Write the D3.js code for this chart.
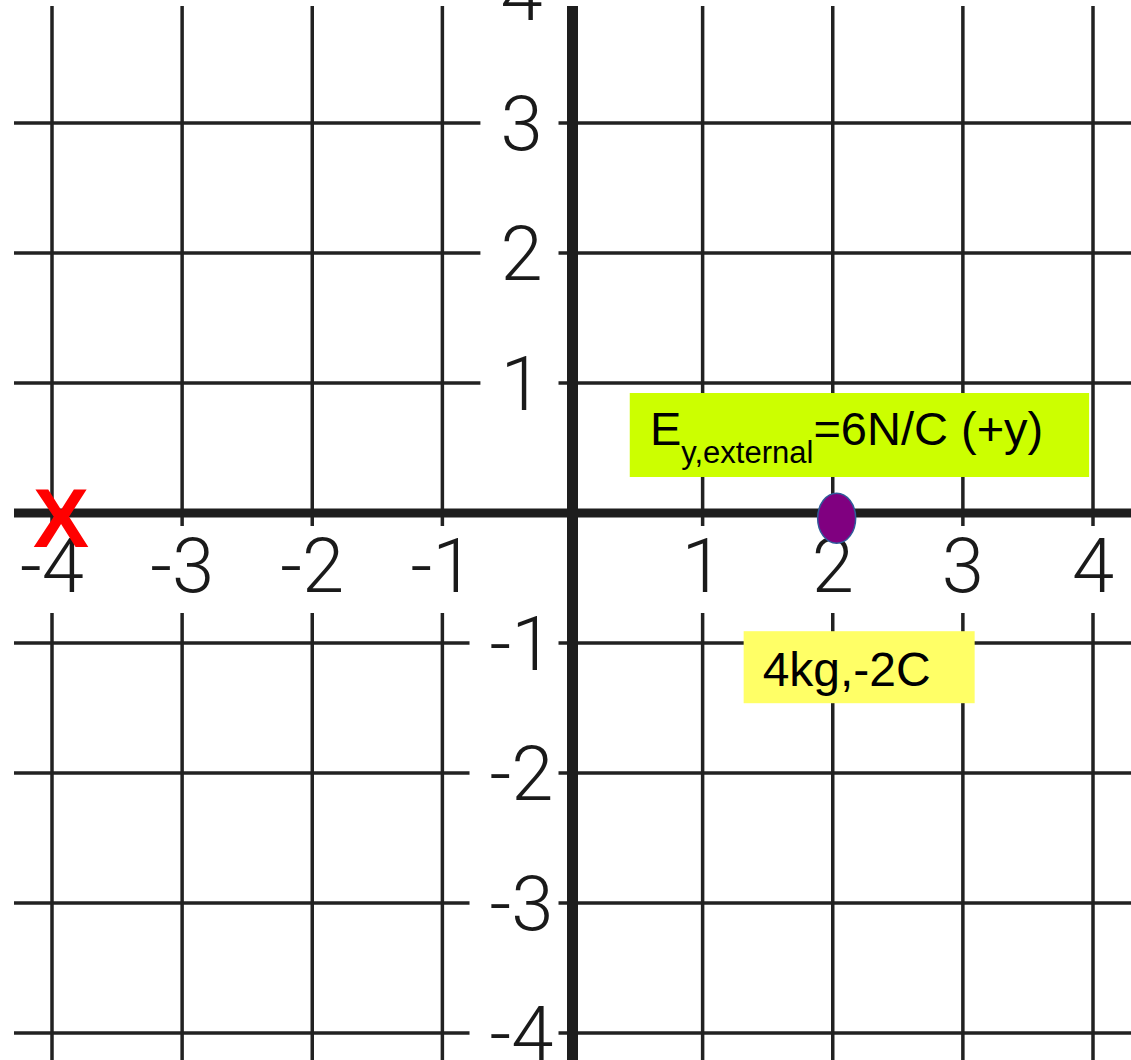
<!DOCTYPE html>
<html lang="en">
<head>
  <meta charset="UTF-8">
  <title>Charge on a grid</title>
  <script src="https://d3js.org/d3.v7.min.js"></script>
  <style>
    body { margin: 0; padding: 0; background: #fff; }
    svg { display: block; }
    .tick-label { font-family: Roboto, "Liberation Sans", sans-serif; font-weight: 300; fill: #1a1a1a; }
    .note { font-family: "Liberation Sans", Arial, sans-serif; fill: #000; }
  </style>
</head>
<body>
  <div id="chart"></div>

  <script>
    // grid values
    const xTicks = [-4, -3, -2, -1, 1, 2, 3, 4];
    const yTicks = [4, 3, 2, 1, -1, -2, -3, -4];
    const xTickLabels = ['-4', '-3', '-2', '-1', '1', '2', '3', '4'];
    const yTickLabels = ['4', '3', '2', '1', '-1', '-2', '-3', '-4'];

    // the charge and the marked point
    const charge = [{ x: 2.03, y: -0.04, label: '4kg,-2C' }];
    const marker = [{ x: -3.93, y: -0.03, label: 'X' }];
    const field = { name: 'E', sub: 'y,external', value: '=6N/C (+y)' };

    const width = 1131;
    const height = 1060;

    const x = d3.scaleLinear().domain([-4, 4]).range([52, 1093]);
    const y = d3.scaleLinear().domain([-4, 4]).range([1033, -7]);

    const svg = d3.select('#chart')
      .append('svg')
      .attr('width', width)
      .attr('height', height);

    const leftEdge = 14, topEdge = 6;

    // grid lines
    svg.append('g')
      .selectAll('line')
      .data(xTicks)
      .join('line')
      .attr('x1', d => x(d)).attr('x2', d => x(d))
      .attr('y1', topEdge).attr('y2', height)
      .attr('stroke', '#222').attr('stroke-width', 3.5);

    svg.append('g')
      .selectAll('line')
      .data(yTicks)
      .join('line')
      .attr('x1', leftEdge).attr('x2', width)
      .attr('y1', d => y(d)).attr('y2', d => y(d))
      .attr('stroke', '#222').attr('stroke-width', 3.5);

    // x labels with white patches behind them
    const xl = svg.append('g');
    const xText = xl.selectAll('text')
      .data(xTicks)
      .join('text')
      .attr('class', 'tick-label')
      .attr('x', d => x(d))
      .attr('y', y(0) + 79)
      .attr('text-anchor', 'middle')
      .style('font-size', '76px')
      .text((d, i) => xTickLabels[i]);
    xText.each(function() {
      const b = this.getBBox();
      xl.insert('rect', 'text')
        .attr('x', b.x - 14).attr('width', b.width + 28)
        .attr('y', y(0) + 13).attr('height', 87)
        .attr('fill', '#fff');
    });

    // y labels
    const yl = svg.append('g');
    const yText = yl.selectAll('text')
      .data(yTicks)
      .join('text')
      .attr('class', 'tick-label')
      .attr('x', x(0) - 51)
      .attr('y', d => y(d))
      .attr('dy', '0.355em')
      .attr('text-anchor', 'middle')
      .style('font-size', '76px')
      .text((d, i) => yTickLabels[i]);
    yText.each(function(d) {
      const b = this.getBBox();
      yl.insert('rect', 'text')
        .attr('x', b.x - 20).attr('width', x(0) - 14 - (b.x - 20))
        .attr('y', y(d) - 32).attr('height', 64)
        .attr('fill', '#fff');
    });

    // main axes
    svg.append('line')
      .attr('x1', leftEdge).attr('x2', width)
      .attr('y1', y(0)).attr('y2', y(0))
      .attr('stroke', '#1e1e1e').attr('stroke-width', 9);
    svg.append('line')
      .attr('x1', x(0)).attr('x2', x(0))
      .attr('y1', topEdge).attr('y2', height)
      .attr('stroke', '#1e1e1e').attr('stroke-width', 11);

    // field label box
    svg.append('rect')
      .attr('x', x(0.44)).attr('y', y(0.923))
      .attr('width', x(3.97) - x(0.44)).attr('height', y(0.277) - y(0.923))
      .attr('fill', '#ccff00');
    const ft = svg.append('text')
      .attr('class', 'note')
      .attr('x', x(0.595))
      .attr('y', y(0.523))
      .style('font-size', '47px');
    ft.append('tspan').text(field.name);
    ft.append('tspan').attr('dy', 18).style('font-size', '31px').text(field.sub);
    ft.append('tspan').attr('dy', -18).text(field.value);

    // charge label box
    svg.selectAll('.charge-box')
      .data(charge)
      .join('rect')
      .attr('class', 'charge-box')
      .attr('x', d => x(d.x) - 93).attr('y', d => y(d.y) + 113)
      .attr('width', 231).attr('height', 72)
      .attr('fill', '#ffff66');
    svg.selectAll('.charge-label')
      .data(charge)
      .join('text')
      .attr('class', 'note charge-label')
      .attr('x', d => x(d.x) - 74).attr('y', d => y(d.y) + 168)
      .style('font-size', '48px')
      .text(d => d.label);

    // the charge itself
    svg.selectAll('.charge')
      .data(charge)
      .join('ellipse')
      .attr('class', 'charge')
      .attr('cx', d => x(d.x)).attr('cy', d => y(d.y))
      .attr('rx', 19).attr('ry', 25)
      .attr('fill', '#800080')
      .attr('stroke', '#2f5b9a').attr('stroke-width', 1.5);

    // red X
    svg.selectAll('.mark')
      .data(marker)
      .join('text')
      .attr('class', 'mark')
      .attr('x', d => x(d.x)).attr('y', d => y(d.y))
      .attr('dy', '0.358em')
      .attr('text-anchor', 'middle')
      .style('font-family', '"Liberation Sans", Arial, sans-serif')
      .style('font-weight', 'bold')
      .style('font-size', '84px')
      .attr('fill', '#ff0000')
      .text(d => d.label);
  </script>
</body>
</html>
